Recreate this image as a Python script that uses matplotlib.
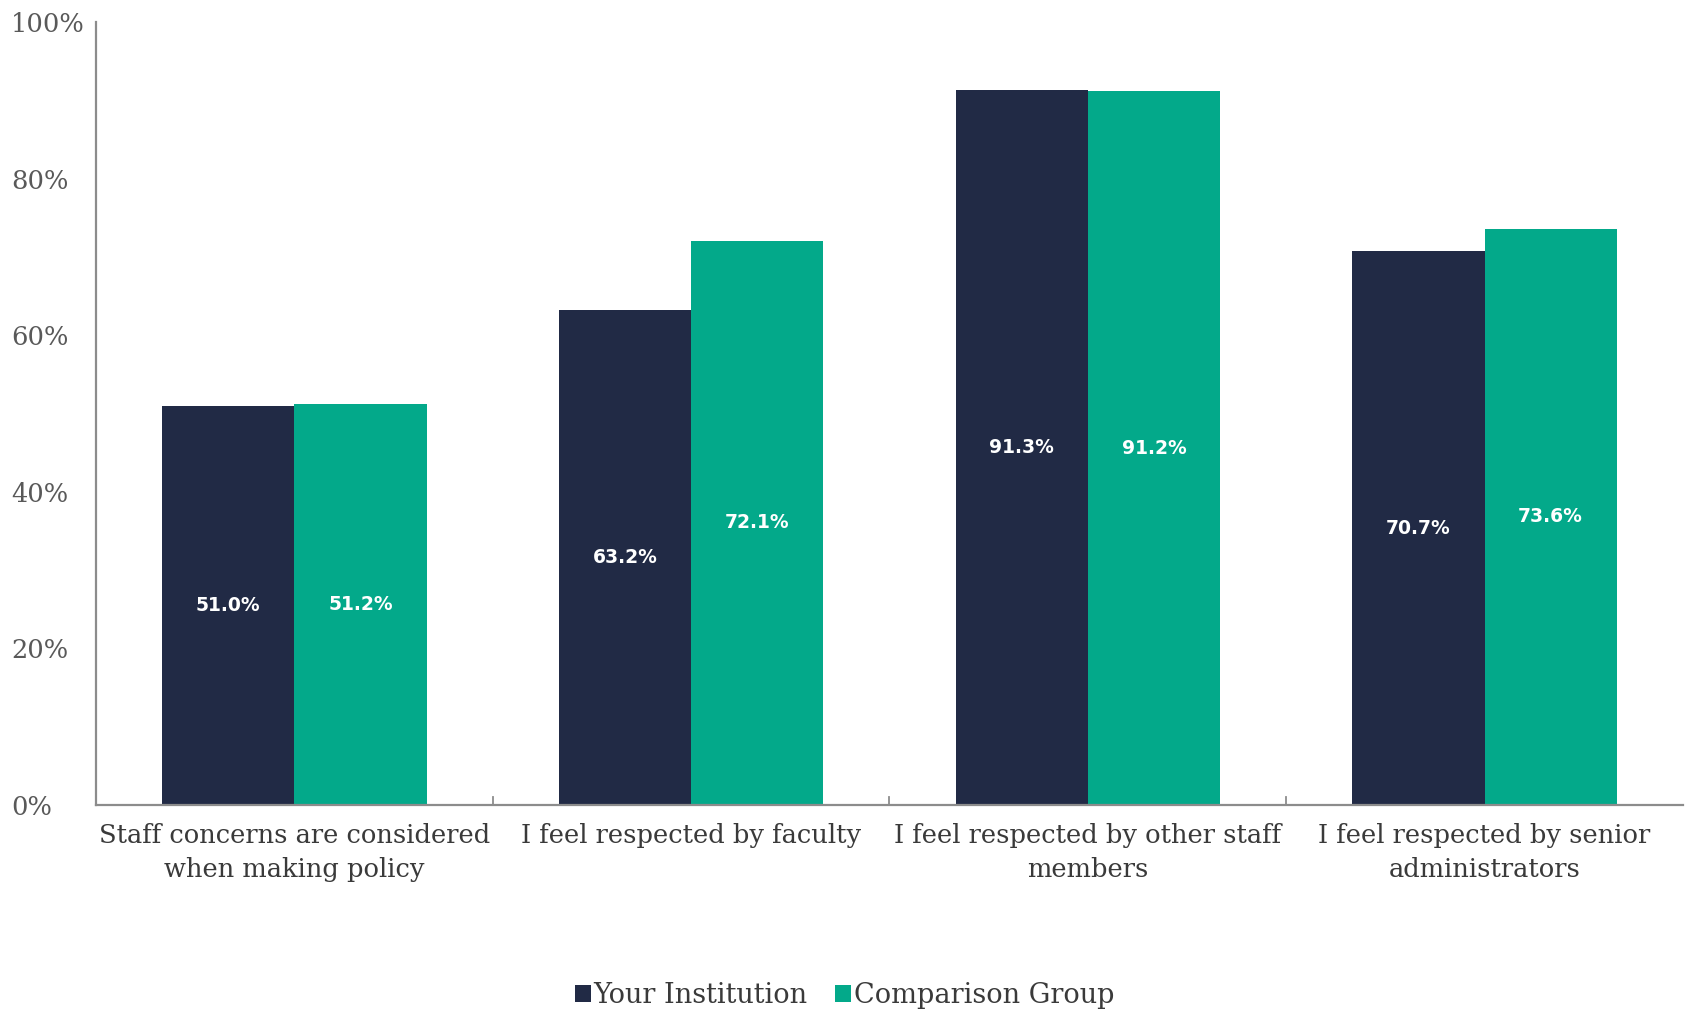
import numpy as np
import matplotlib.pyplot as plt
from matplotlib.ticker import FuncFormatter

# ---- data ----
categories = [
    "Staff concerns are considered\nwhen making policy",
    "I feel respected by faculty",
    "I feel respected by other staff\nmembers",
    "I feel respected by senior\nadministrators",
]
your_institution = [51.0, 63.2, 91.3, 70.7]
comparison_group = [51.2, 72.1, 91.2, 73.6]
series_names = ["Your Institution", "Comparison Group"]

# ---- style ----
COL_DARK = "#212a45"
COL_GREEN = "#03a98a"
COL_TEXT = "#595959"
COL_LABEL = "#3a3a3a"
COL_AXIS = "#8c8c8c"

plt.rcParams["font.family"] = ["DejaVu Serif"]

fig = plt.figure(figsize=(16.89, 10.13), dpi=100)
ax = fig.add_axes([0.0568, 0.2053, 0.9396, 0.7729])

x = np.arange(len(categories))
w = 1 / 3

b1 = ax.bar(x - w / 2, your_institution, width=w, color=COL_DARK,
            label=series_names[0], zorder=2)
b2 = ax.bar(x + w / 2, comparison_group, width=w, color=COL_GREEN,
            label=series_names[1], zorder=2)

# value labels in the middle of each bar
for bars, vals in ((b1, your_institution), (b2, comparison_group)):
    for rect, v in zip(bars, vals):
        ax.text(rect.get_x() + rect.get_width() / 2, v / 2, f"{v:.1f}%",
                ha="center", va="center", color="white", fontsize=13.5,
                fontweight="bold", family="DejaVu Sans", zorder=3)

ax.set_xlim(-0.5, len(categories) - 0.5)
ax.set_ylim(0, 100)
ax.set_yticks(np.arange(0, 101, 20))
ax.yaxis.set_major_formatter(FuncFormatter(lambda v, _: f"{v:.0f}%"))

ax.set_xticks(x)
ax.set_xticklabels(categories, fontsize=18.5, color=COL_LABEL,
                   linespacing=1.45)
ax.tick_params(axis="x", length=0, pad=13)

# y labels are left-aligned at the figure edge
ax.tick_params(axis="y", length=0, pad=61, labelsize=18.5,
               labelcolor=COL_TEXT)
for lbl in ax.get_yticklabels():
    lbl.set_horizontalalignment("left")

# category separators on the x axis
for sep in np.arange(0.5, len(categories) - 0.5, 1.0):
    ax.plot([sep, sep], [0, 1.0], color=COL_AXIS, lw=1.3, zorder=1,
            clip_on=False)

for side in ("top", "right"):
    ax.spines[side].set_visible(False)
for side in ("left", "bottom"):
    ax.spines[side].set_color(COL_AXIS)
    ax.spines[side].set_linewidth(1.6)

fig.legend(handles=[b1, b2], labels=series_names, loc="center",
           bbox_to_anchor=(0.5, 0.017), ncol=2, frameon=False, fontsize=19.5,
           handlelength=0.6, handleheight=0.6, handletextpad=0.1,
           columnspacing=1.0, labelcolor=COL_LABEL)

fig.savefig("out.png", dpi=100)
